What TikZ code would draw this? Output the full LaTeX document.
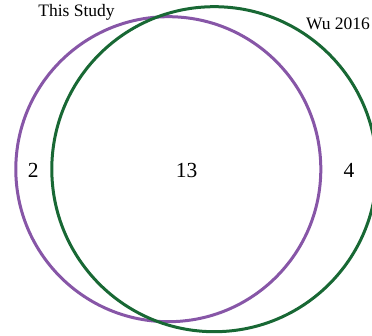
\documentclass[tikz,border=0pt]{standalone}
\usepackage{fontspec}
\setmainfont{Liberation Serif}
\definecolor{vpurple}{RGB}{135,86,167}
\definecolor{vgreen}{RGB}{24,104,52}
\begin{document}
\begin{tikzpicture}[x=1pt,y=-1pt,
  setring/.style={line width=3pt},
  setlabel/.style={anchor=base,inner sep=0pt,font=\fontsize{17.5}{20}\selectfont},
  countlabel/.style={anchor=base,inner sep=0pt,font=\fontsize{21.5}{24}\selectfont}]
\useasboundingbox (0,0) rectangle (372,336);
\clip (0,0) rectangle (372,336);
\node[setring,draw=vpurple,circle,minimum size=305pt,inner sep=0pt] (A) at (168.3,169.2) {};
\node[setring,draw=vgreen,circle,minimum size=325pt,inner sep=0pt] (B) at (214.3,169.2) {};
\node[setlabel] (la) at (76.5,16.7) {This Study};
\node[setlabel] (lb) at (338,30) {Wu 2016};
\node[countlabel] (n1) at (33.3,177.3) {2};
\node[countlabel] (n2) at (186.7,177.3) {13};
\node[countlabel] (n3) at (349,177.3) {4};
\end{tikzpicture}
\end{document}
